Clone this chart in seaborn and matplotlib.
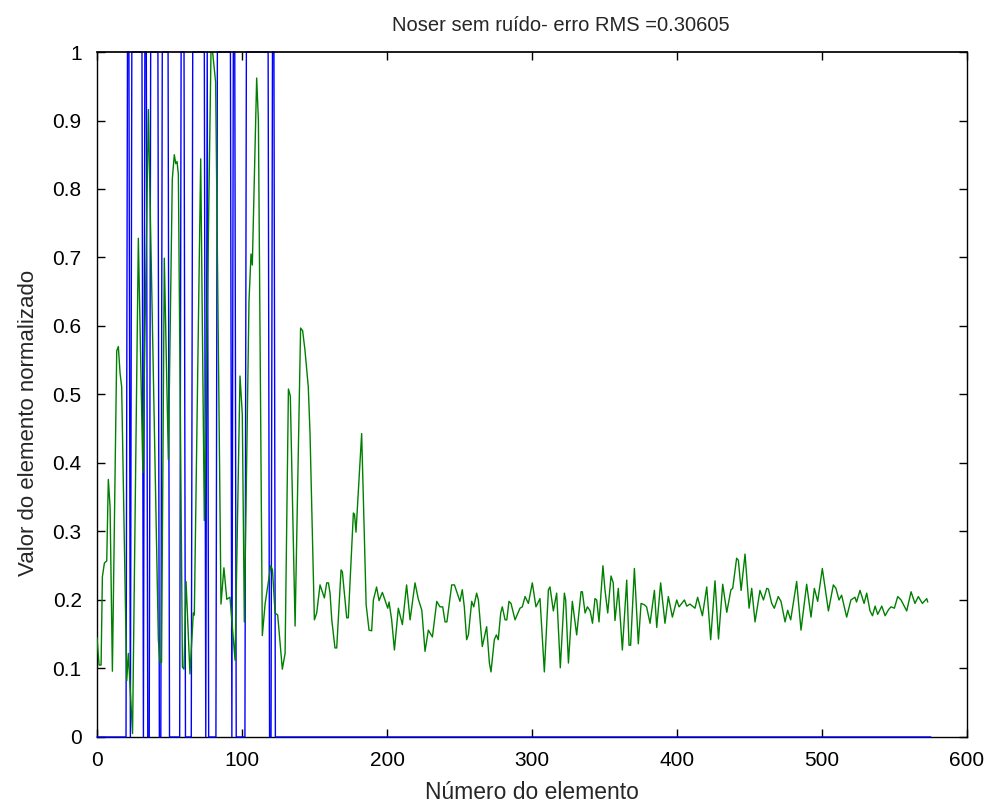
import numpy as np
import pandas as pd
import seaborn as sns
import matplotlib
matplotlib.use("Agg")
import matplotlib.pyplot as plt
from matplotlib.ticker import FixedLocator, FuncFormatter

# ---------------- data ----------------
title_text = "Noser sem ruído- erro RMS =0.30605"
xlabel_text = "Número do elemento"
ylabel_text = "Valor do elemento normalizado"

n_elements = 576
# original (blue) 0/1 signal: ranges of indices where value is 1 (inclusive)
pulse_start = [21, 24, 33, 37, 45, 58, 66, 76, 83, 94, 103, 121]
pulse_end   = [22, 31, 34, 42, 49, 60, 74, 76, 92, 95, 118, 122]

# reconstructed (green) signal: vertices
green_x = [0, 1.4, 2.8, 3.7, 5.1, 6.7, 7.8, 9.0, 10.6, 13.6, 14.7, 15.9, 17.0, 20.5, 21.6, 24.5,
           28.5, 31.6, 35.4, 42.3, 43.4, 44.5, 46.4, 49.2,
           51.9, 53.3, 54.3, 55.2, 56.1, 58.9, 60.0, 61.4, 64.1, 66.4, 67.1, 71.5, 74.0,
           78.6, 79.7, 81.8, 85.5, 87.5, 89.5, 91.7, 95.2,
           98.6, 100.2, 101.6, 104.8, 106.2, 107.1, 110.1, 111.3, 114.0, 115.9, 118.2, 119.8,
           121.0, 122.8, 124.6, 127.8, 129.7, 132.0, 133.3, 136.6, 140.4, 141.8, 143.4,
           145.7, 146.9, 149.9, 151.5, 153.8, 156.8, 158.4, 159.6, 160.7, 161.9, 164.1, 165.3,
           168.3, 169.2, 172.2, 173.3, 176.8, 177.6, 178.6, 182.5, 185.6, 187.6, 189.4, 190.6,
           192.8, 194.5,
           196.8, 200.5, 201.4, 203.2, 205.1, 207.8, 210.6, 213.5, 215.9, 219.3, 221.6, 224.0,
           226.2, 228.5, 231.3, 234.3, 236.5, 238.4, 240.0, 241.3, 244.6, 246.5, 248.1, 250.3,
           251.9, 253.3, 254.9, 256.1, 258.4, 259.8, 261.8, 263.0, 265.7, 268.7, 270.6, 271.7,
           274.0, 275.4, 276.7, 278.4, 279.5, 281.4, 282.6, 284.1, 285.5, 288.3, 291.7, 293.3,
           295.2, 297.5, 300.2, 302.7,
           305.5, 308.5, 311.3, 312.4, 314.7, 317.0, 319.5, 322.3, 323.2, 325.1, 327.8, 330.8,
           333.8, 334.7, 336.6, 338.2, 340.1, 341.7, 343.4, 344.6, 346.2, 348.9, 350.3, 352.2,
           354.5, 356.0, 357.2,
           359.5, 362.3, 365.3, 366.9, 368.0, 370.6, 373.3, 375.2, 377.5, 379.0, 381.4, 384.4,
           386.0, 388.7, 391.7, 394.0, 396.8, 399.8, 401.4, 405.1, 406.7, 408.9, 412.4, 414.2,
           417.5, 420.5, 423.2, 426.2, 428.6, 431.5, 434.3, 437.2, 438.4, 441.1, 442.3, 444.2,
           446.9, 449.7, 451.5, 453.8, 457.2, 459.6, 461.9, 463.0, 465.3, 467.1, 469.8,
           471.7, 474.5, 476.3, 478.4, 482.5, 485.5, 489.4, 492.4, 494.7, 497.0, 500.2, 504.4,
           507.8, 509.6, 511.7, 513.5, 517.0, 519.9, 522.7, 523.8, 526.2,
           528.0, 529.0, 530.8, 533.1, 534.8, 536.6, 538.4, 541.2, 543.5, 545.9, 547.6, 549.9,
           552.2, 554.5, 558.4, 561.4, 564.1, 566.4, 569.2, 572.2, 572.9]
green_y = [0.145, 0.105, 0.105, 0.234, 0.254, 0.257, 0.376, 0.336, 0.096, 0.564, 0.570, 0.531, 0.511, 0.082, 0.122, 0.005,
           0.728, 0.386, 0.916, 0.142, 0.109, 0.109, 0.699, 0.405,
           0.814, 0.850, 0.837, 0.840, 0.821, 0.102, 0.099, 0.227, 0.092, 0.181, 0.178, 0.844, 0.316,
           1.000, 1.000, 0.956, 0.194, 0.247, 0.201, 0.204, 0.112,
           0.527, 0.471, 0.168, 0.636, 0.705, 0.689, 0.962, 0.900, 0.148, 0.194, 0.227, 0.250,
           0.244, 0.181, 0.178, 0.099, 0.122, 0.508, 0.498, 0.162, 0.597, 0.593, 0.565,
           0.511, 0.443, 0.171, 0.181, 0.222, 0.203, 0.225, 0.225, 0.210, 0.171, 0.130, 0.130,
           0.244, 0.241, 0.174, 0.174, 0.327, 0.325, 0.299, 0.443, 0.193, 0.156, 0.155, 0.200,
           0.219, 0.199,
           0.211, 0.188, 0.197, 0.171, 0.127, 0.188, 0.164, 0.222, 0.171, 0.225, 0.201, 0.185,
           0.125, 0.156, 0.146, 0.198, 0.190, 0.190, 0.168, 0.168, 0.222, 0.222, 0.212, 0.198,
           0.215, 0.190, 0.142, 0.149, 0.198, 0.190, 0.210, 0.200, 0.132, 0.161, 0.108, 0.095,
           0.142, 0.149, 0.142, 0.181, 0.190, 0.171, 0.171, 0.198, 0.195, 0.171, 0.188, 0.190,
           0.205, 0.195, 0.225, 0.190,
           0.202, 0.095, 0.215, 0.219, 0.184, 0.210, 0.101, 0.210, 0.200, 0.108, 0.198, 0.149,
           0.212, 0.212, 0.181, 0.190, 0.184, 0.166, 0.202, 0.200, 0.168, 0.250, 0.215, 0.181,
           0.235, 0.225, 0.170,
           0.217, 0.127, 0.229, 0.134, 0.134, 0.246, 0.136, 0.195, 0.193, 0.190, 0.166, 0.214,
           0.160, 0.225, 0.166, 0.205, 0.175, 0.200, 0.190, 0.200, 0.191, 0.194, 0.188, 0.204,
           0.177, 0.219, 0.142, 0.228, 0.143, 0.223, 0.182, 0.215, 0.217, 0.261, 0.258, 0.214,
           0.267, 0.188, 0.217, 0.168, 0.214, 0.200, 0.217, 0.216, 0.195, 0.188, 0.205,
           0.198, 0.168, 0.185, 0.171, 0.227, 0.156, 0.223, 0.175, 0.217, 0.198, 0.246, 0.184,
           0.222, 0.217, 0.200, 0.207, 0.175, 0.200, 0.204, 0.197, 0.214,
           0.202, 0.195, 0.210, 0.184, 0.177, 0.191, 0.179, 0.191, 0.177, 0.186, 0.190, 0.188,
           0.205, 0.200, 0.184, 0.212, 0.195, 0.205, 0.195, 0.202, 0.197]

x_ticks = [0, 100, 200, 300, 400, 500, 600]
y_ticks = [0, 0.1, 0.2, 0.3, 0.4, 0.5, 0.6, 0.7, 0.8, 0.9, 1.0]

# build blue signal table from the pulse ranges
blue_idx = np.arange(n_elements)
blue_val = np.zeros(n_elements)
for s, e in zip(pulse_start, pulse_end):
    blue_val[s:e + 1] = 1.0
blue_df = pd.DataFrame({"x": blue_idx, "y": blue_val})
green_df = pd.DataFrame({"x": green_x, "y": green_y})

# ---------------- style ----------------
sns.set_theme(style="white")
plt.rcParams["font.family"] = ["Liberation Sans", "DejaVu Sans"]
plt.rcParams["axes.edgecolor"] = "black"
plt.rcParams["axes.linewidth"] = 1.0

fig = plt.figure(figsize=(9.9, 8.05), dpi=100)
ax = fig.add_axes([0.098, 0.0845, 0.8788, 0.8509])

sns.lineplot(data=blue_df, x="x", y="y", ax=ax, color="#0000ff", linewidth=1.0,
             sort=False, estimator=None, clip_on=False, zorder=3)
sns.lineplot(data=green_df, x="x", y="y", ax=ax, color="#008000", linewidth=1.0,
             sort=False, estimator=None, zorder=4)

ax.set_xlim(0, 600)
ax.set_ylim(0, 1)
ax.xaxis.set_major_locator(FixedLocator(x_ticks))
ax.yaxis.set_major_locator(FixedLocator(y_ticks))
ax.yaxis.set_major_formatter(FuncFormatter(lambda v, p: f"{v:g}"))
ax.tick_params(direction="in", length=6, width=1, top=True, right=True,
               bottom=True, left=True, labelsize=15, colors="black", pad=10)
ax.tick_params(axis="y", pad=11)

for name, sp in ax.spines.items():
    sp.set_visible(True)
    sp.set_color("black")
    sp.set_linewidth(1.0)
# top border drawn over the pulse tops, bottom border beneath the zero line
ax.spines["top"].set_zorder(6)
ax.spines["top"].set_linewidth(1.25)
ax.spines["bottom"].set_zorder(1)

ax.set_xlabel(xlabel_text, fontsize=16.5, labelpad=8)
ax.set_ylabel(ylabel_text, fontsize=16, labelpad=10)
ax.yaxis.label.set_y(0.458)
ax.set_title(title_text, fontsize=14.5, pad=15, x=0.533)

fig.savefig("out.png", dpi=100, facecolor="white")
